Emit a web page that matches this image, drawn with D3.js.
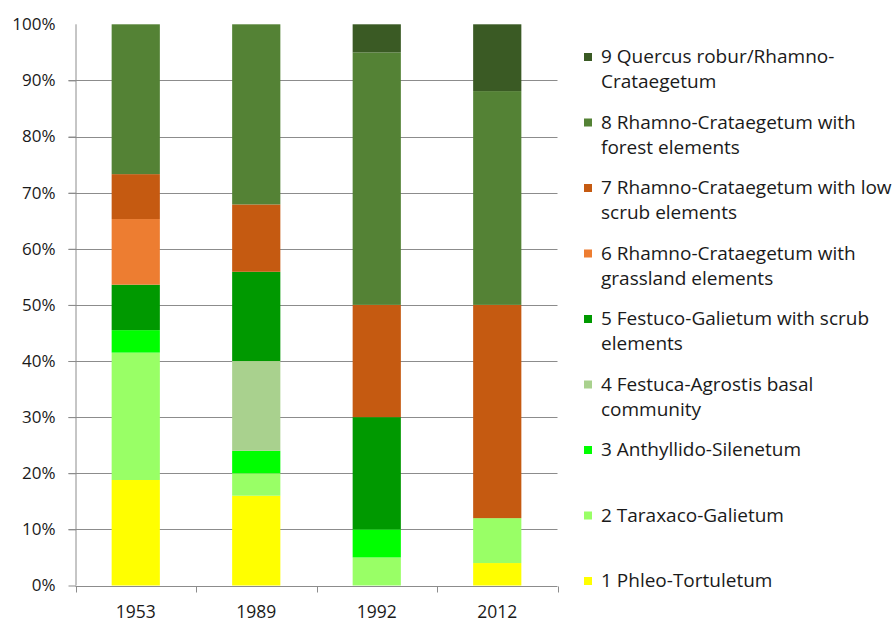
<!DOCTYPE html>
<html><head><meta charset="utf-8">
<script src="https://cdn.jsdelivr.net/npm/d3@7"></script>
<style>
html,body{margin:0;padding:0;background:#fff;}
svg{display:block;font-family:"Open Sans", Lato, sans-serif;}
</style></head>
<body><svg id="c" width="896" height="621"></svg>
<script>
const categories = ["1953", "1989", "1992", "2012"];
const seriesNames = [
  "1 Phleo-Tortuletum",
  "2 Taraxaco-Galietum",
  "3 Anthyllido-Silenetum",
  "4 Festuca-Agrostis basal community",
  "5 Festuco-Galietum with scrub elements",
  "6 Rhamno-Crataegetum with grassland elements",
  "7 Rhamno-Crataegetum with low scrub elements",
  "8 Rhamno-Crataegetum with forest elements",
  "9 Quercus robur/Rhamno-Crataegetum"
];
const legendLines = [
  ["1 Phleo-Tortuletum"],
  ["2 Taraxaco-Galietum"],
  ["3 Anthyllido-Silenetum"],
  ["4 Festuca-Agrostis basal", "community"],
  ["5 Festuco-Galietum with scrub", "elements"],
  ["6 Rhamno-Crataegetum with", "grassland elements"],
  ["7 Rhamno-Crataegetum with low", "scrub elements"],
  ["8 Rhamno-Crataegetum with", "forest elements"],
  ["9 Quercus robur/Rhamno-", "Crataegetum"]
];
const s1 = [18.8, 16.0, 0, 4.0];
const s2 = [22.7, 4.0, 5.0, 8.0];
const s3 = [4.0, 4.0, 5.0, 0];
const s4 = [0, 16.0, 0, 0];
const s5 = [8.1, 15.9, 20.0, 0];
const s6 = [11.7, 0, 0, 0];
const s7 = [8.0, 12.0, 20.0, 38.0];
const s8 = [26.7, 32.1, 45.0, 38.1];
const s9 = [0, 0, 5.0, 11.9];
const seriesValues = [s1, s2, s3, s4, s5, s6, s7, s8, s9];
const colors = ["#FFFF00", "#99FF66", "#00FF00", "#A9D18E", "#009900", "#ED7D31", "#C55A11", "#548235", "#3A5A24"];
const yTicks = [0, 10, 20, 30, 40, 50, 60, 70, 80, 90, 100];

const table = categories.map((c, i) => {
  const row = {cat: c};
  seriesNames.forEach((n, j) => row[n] = seriesValues[j][i]);
  return row;
});
const stacked = d3.stack().keys(seriesNames)(table);

const svg = d3.select("#c");
const pLeft = 75.5, pRight = 557.5, pTop = 24.3, pBottom = 585.5;
const x = d3.scaleBand().domain(categories).range([pLeft, pRight]).paddingInner(0.6).paddingOuter(0.3);
const y = d3.scaleLinear().domain([0, 100]).range([pBottom, pTop]);

// gridlines
svg.append("g").selectAll("line").data(yTicks.filter(t => t > 0 && t < 100)).join("line")
  .attr("x1", pLeft - 7).attr("x2", pRight)
  .attr("y1", d => Math.round(y(d)) + 0.5).attr("y2", d => Math.round(y(d)) + 0.5)
  .attr("stroke", "#8c8c8c").attr("stroke-width", 1);

// bars
svg.append("g").selectAll("g").data(stacked).join("g")
  .attr("fill", (d, i) => colors[i])
  .selectAll("rect").data(d => d).join("rect")
  .attr("x", d => x(d.data.cat))
  .attr("width", x.bandwidth())
  .attr("y", d => y(d[1]))
  .attr("height", d => Math.max(0, y(d[0]) - y(d[1])));

// y axis
const yAxis = d3.axisLeft(y).tickValues(yTicks).tickFormat(d => d + "%").tickSize(7).tickPadding(13);
const gy = svg.append("g").attr("transform", `translate(${pLeft},0)`).call(yAxis);
gy.select(".domain").attr("stroke", "#8c8c8c").attr("d", `M0.5,${y(100)}V${pBottom}`);
gy.selectAll(".tick line").attr("stroke", "#8c8c8c").attr("x1", 0.5);
gy.selectAll(".tick").filter(d => d === 100).select("line").remove();
gy.selectAll(".tick text").attr("font-size", 17).attr("fill", "#1a1a1a").attr("font-family", "'Open Sans', sans-serif");

// x axis
const gx = svg.append("g").attr("transform", `translate(0,${Math.round(pBottom) + 0.5})`);
gx.append("line").attr("x1", pLeft).attr("x2", pRight).attr("stroke", "#8c8c8c");
const bounds = d3.range(categories.length + 1).map(i => pLeft + i * x.step());
gx.selectAll("line.t").data(bounds).join("line").attr("class", "t")
  .attr("x1", d => Math.round(d) + 0.5).attr("x2", d => Math.round(d) + 0.5)
  .attr("y1", 0).attr("y2", 6).attr("stroke", "#8c8c8c");
gx.selectAll("text").data(categories).join("text")
  .attr("x", d => x(d) + x.bandwidth() / 2).attr("y", 31)
  .attr("text-anchor", "middle").attr("font-size", 17.5).attr("fill", "#1a1a1a")
  .text(d => d);

// legend
const legStart = 56, legStep = 65.5;
const lg = svg.append("g");
legendLines.forEach((lines, i) => {
  const cy = legStart + (8 - i) * legStep;
  lg.append("rect").attr("x", 584).attr("y", cy - 3).attr("width", 8).attr("height", 8).attr("fill", colors[i]);
  lines.forEach((t, k) => {
    lg.append("text").attr("x", 601).attr("y", cy + k * 25 + 7)
      .attr("font-size", 19).attr("fill", "#1a1a1a").text(t);
  });
});
</script></body></html>
